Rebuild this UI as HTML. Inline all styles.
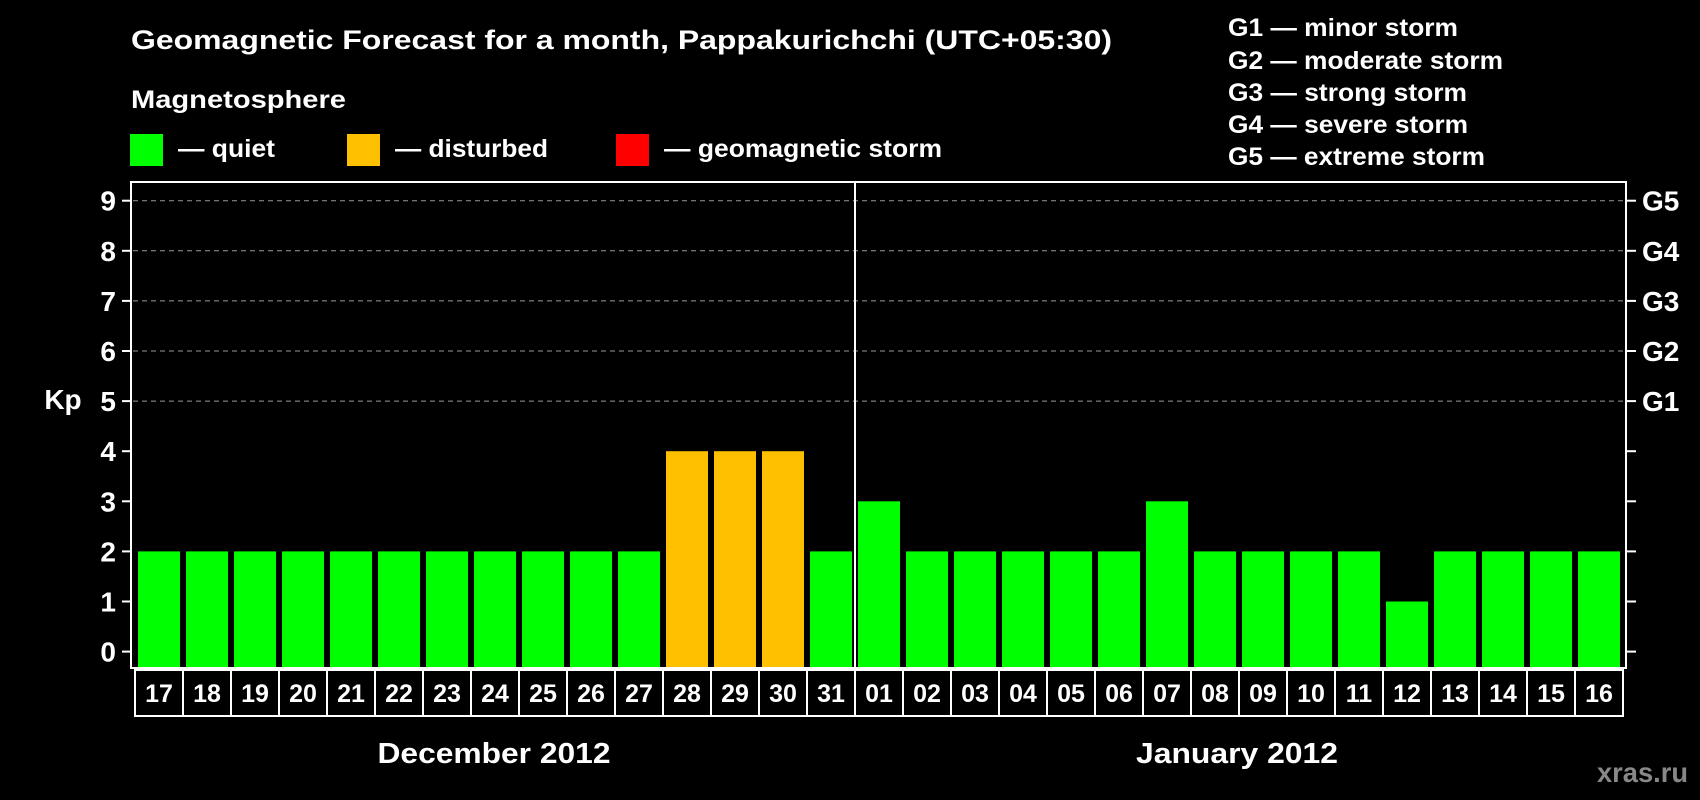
<!DOCTYPE html>
<html><head><meta charset="utf-8"><style>
body{margin:0;background:#000;}
svg{display:block;font-family:"Liberation Sans",Arial,sans-serif;font-weight:bold;}
</style></head><body>
<svg id="chart" width="1700" height="800" viewBox="0 0 1700 800">
<rect width="1700" height="800" fill="#000"/>
<text x="131" y="49" fill="#fff" font-size="27" textLength="981" lengthAdjust="spacingAndGlyphs">Geomagnetic Forecast for a month, Pappakurichchi (UTC+05:30)</text>
<text x="131" y="108" fill="#fff" font-size="25" textLength="215" lengthAdjust="spacingAndGlyphs">Magnetosphere</text>
<rect x="130" y="134" width="33" height="32" fill="#00ff00"/>
<text x="178" y="157" fill="#fff" font-size="25" textLength="97" lengthAdjust="spacingAndGlyphs">— quiet</text>
<rect x="347" y="134" width="33" height="32" fill="#ffc000"/>
<text x="395" y="157" fill="#fff" font-size="25" textLength="153" lengthAdjust="spacingAndGlyphs">— disturbed</text>
<rect x="616" y="134" width="33" height="32" fill="#ff0000"/>
<text x="664" y="157" fill="#fff" font-size="25" textLength="278" lengthAdjust="spacingAndGlyphs">— geomagnetic storm</text>
<g fill="#fff" font-size="25" lengthAdjust="spacingAndGlyphs">
<text x="1228" y="36" textLength="230" lengthAdjust="spacingAndGlyphs">G1 — minor storm</text>
<text x="1228" y="69" textLength="275" lengthAdjust="spacingAndGlyphs">G2 — moderate storm</text>
<text x="1228" y="101" textLength="239" lengthAdjust="spacingAndGlyphs">G3 — strong storm</text>
<text x="1228" y="133" textLength="240" lengthAdjust="spacingAndGlyphs">G4 — severe storm</text>
<text x="1228" y="165" textLength="257" lengthAdjust="spacingAndGlyphs">G5 — extreme storm</text>
</g>
<text x="63" y="409" fill="#fff" font-size="28" text-anchor="middle">Kp</text>
<g id="grid"></g>
<g id="bars"></g>
<rect x="131" y="182" width="1495" height="486" fill="none" stroke="#fff" stroke-width="2"/>
<line x1="855" y1="182" x2="855" y2="668" stroke="#fff" stroke-width="2"/>
<g id="axes"></g>
<g id="dates"></g>
<text x="494" y="763" fill="#fff" font-size="29" text-anchor="middle" textLength="233" lengthAdjust="spacingAndGlyphs">December 2012</text>
<text x="1237" y="763" fill="#fff" font-size="29" text-anchor="middle" textLength="202" lengthAdjust="spacingAndGlyphs">January 2012</text>
<text x="1688" y="782" fill="#888" font-size="28" text-anchor="end" textLength="91" lengthAdjust="spacingAndGlyphs">xras.ru</text>
</svg>
<script>
const days = ["17","18","19","20","21","22","23","24","25","26","27","28","29","30","31","01","02","03","04","05","06","07","08","09","10","11","12","13","14","15","16"];
const kpValues = [2,2,2,2,2,2,2,2,2,2,2,4,4,4,2,3,2,2,2,2,2,3,2,2,2,2,1,2,2,2,2];
const yTicks = [0,1,2,3,4,5,6,7,8,9];
const gLabels = ["G1","G2","G3","G4","G5"];
const gLevels = [5,6,7,8,9];

const NS = "http://www.w3.org/2000/svg";
function yScale(v){ return 651.6 - 50.1*v; }
function xSlot(i){ return 135 + 48*i; }
function mk(tag, attrs, parent){ const e=document.createElementNS(NS,tag); for(const k in attrs) e.setAttribute(k,attrs[k]); parent.appendChild(e); return e; }
function colorFor(v){ return v>=5 ? "#ff0000" : (v>=4 ? "#ffc000" : "#00ff00"); }

const grid=document.getElementById("grid"), bars=document.getElementById("bars"), axes=document.getElementById("axes"), dates=document.getElementById("dates");

gLevels.forEach((lv,i)=>{
  const y=yScale(lv);
  const l=mk("line",{x1:133,x2:1624,y1:y,y2:y,stroke:"#999","stroke-width":1,"stroke-dasharray":"5,4"},grid);
  
  
  const t=mk("text",{x:1642,y:y+10,fill:"#fff","font-size":28},axes);
  t.textContent=gLabels[i];
  
  
});

yTicks.forEach(v=>{
  const y=yScale(v);
  const a=mk("line",{x1:122,x2:131,y1:y,y2:y,stroke:"#fff","stroke-width":2},axes);
  
  
  const b=mk("line",{x1:1626,x2:1636,y1:y,y2:y,stroke:"#fff","stroke-width":2},axes);
  
  
  const t=mk("text",{x:116,y:y+10,fill:"#fff","font-size":28,"text-anchor":"end"},axes);
  t.textContent=v;
  
  
});

kpValues.forEach((v,i)=>{
  const x=xSlot(i)+3, y=yScale(v);
  const r=mk("rect",{x:x,y:y,width:42,height:667-y,fill:colorFor(v)},bars);
  
  
});

days.forEach((d,i)=>{
  const x=xSlot(i);
  const r=mk("rect",{x:x,y:670,width:48,height:46,fill:"none",stroke:"#fff","stroke-width":2},dates);
  
  
  const t=mk("text",{x:x+24,y:702,fill:"#fff","font-size":25,"text-anchor":"middle"},dates);
  t.textContent=d;
  
  
});
</script>
</body></html>
